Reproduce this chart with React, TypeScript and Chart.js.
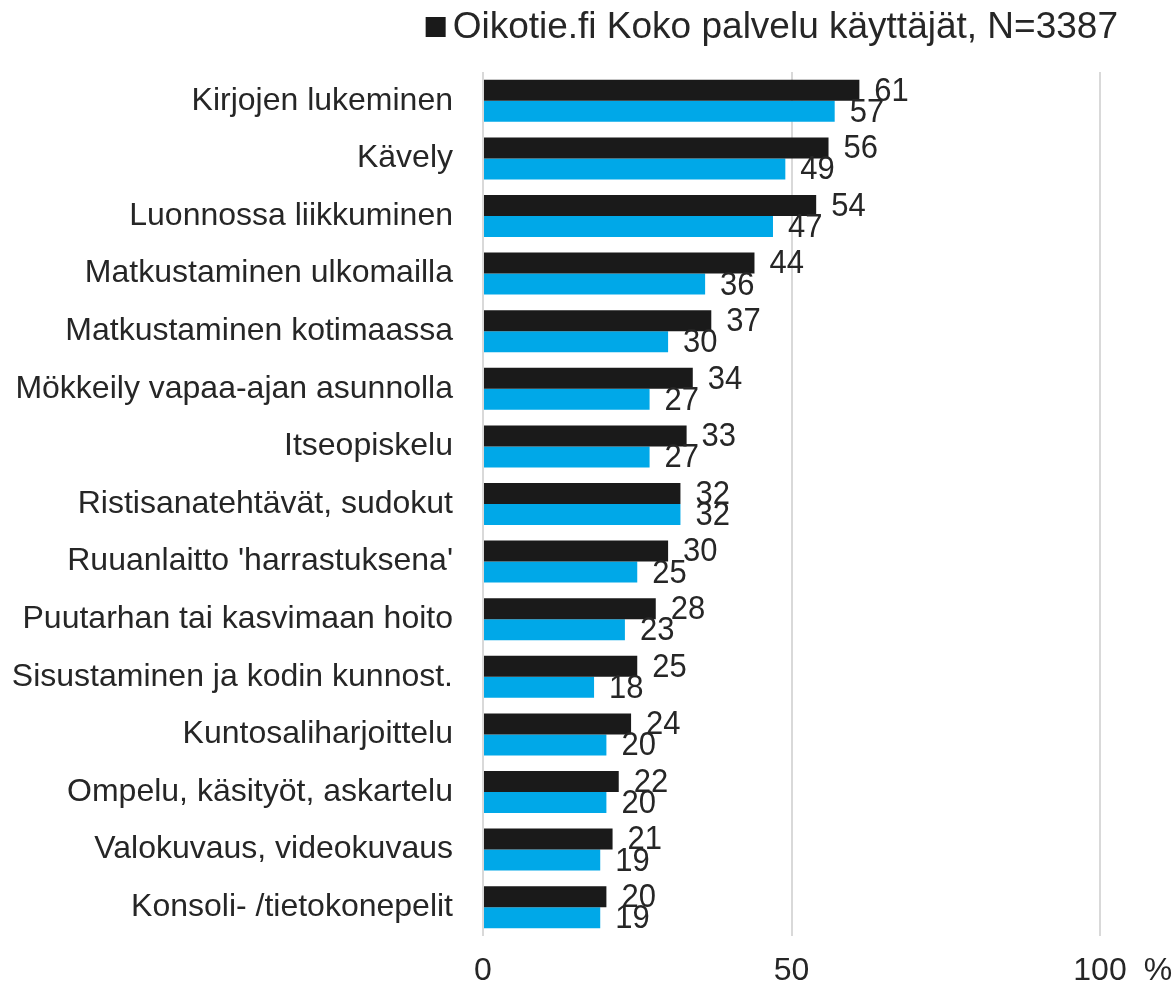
import React, { useEffect, useRef } from "react";
import { Chart, registerables } from "chart.js";

Chart.register(...registerables);

const categories = [
  "Kirjojen lukeminen",
  "Kävely",
  "Luonnossa liikkuminen",
  "Matkustaminen ulkomailla",
  "Matkustaminen kotimaassa",
  "Mökkeily vapaa-ajan asunnolla",
  "Itseopiskelu",
  "Ristisanatehtävät, sudokut",
  "Ruuanlaitto 'harrastuksena'",
  "Puutarhan tai kasvimaan hoito",
  "Sisustaminen ja kodin kunnost.",
  "Kuntosaliharjoittelu",
  "Ompelu, käsityöt, askartelu",
  "Valokuvaus, videokuvaus",
  "Konsoli- /tietokonepelit",
];

const seriesKoko = [61, 56, 54, 44, 37, 34, 33, 32, 30, 28, 25, 24, 22, 21, 20];
const seriesBlue = [57, 49, 47, 36, 30, 27, 27, 32, 25, 23, 18, 20, 20, 19, 19];
const xTickValues = [0, 50, 100];
const legendLabel = "Oikotie.fi Koko palvelu käyttäjät, N=3387";
const blueLabel = "Vertailuryhmä";

const FONT = '"Liberation Sans", Arial, sans-serif';
const TEXT = "#262626";

export default function App() {
  const ref = useRef<HTMLCanvasElement | null>(null);

  useEffect(() => {
    if (!ref.current) return;

    const labelsPlugin = {
      id: "valueLabels",
      afterDatasetsDraw(chart: any) {
        const ctx = chart.ctx;
        chart.data.datasets.forEach((ds: any, i: number) => {
          const meta = chart.getDatasetMeta(i);
          meta.data.forEach((el: any, j: number) => {
            ctx.save();
            ctx.font = `31px ${FONT}`;
            ctx.fillStyle = TEXT;
            ctx.textAlign = "left";
            ctx.textBaseline = "middle";
            ctx.translate(el.x + 15, el.y + 1);
            ctx.scale(1, 1.1);
            ctx.fillText(String(ds.data[j]), 0, 0);
            ctx.restore();
          });
        });
      },
    };

    const extrasPlugin = {
      id: "extras",
      afterDraw(chart: any) {
        const ctx = chart.ctx;
        ctx.save();
        // legend (first series only)
        ctx.font = `37px ${FONT}`;
        ctx.fillStyle = TEXT;
        ctx.textAlign = "right";
        ctx.textBaseline = "middle";
        const right = chart.width - 55;
        ctx.fillText(legendLabel, right, 28);
        const w = ctx.measureText(legendLabel).width;
        ctx.fillStyle = chart.data.datasets[0].backgroundColor;
        ctx.fillRect(right - w - 27, 17, 20, 20);
        // percent sign after the last tick
        const xs = chart.scales.x;
        ctx.font = `32px ${FONT}`;
        ctx.fillStyle = TEXT;
        ctx.textAlign = "left";
        const px = xs.getPixelForValue(100);
        const w100 = ctx.measureText("100").width;
        ctx.textBaseline = "top";
        ctx.fillText("%", px + w100 / 2 + 17, xs.top + 16 + 3.2);
        ctx.restore();
      },
    };

    const chart = new Chart(ref.current, {
      type: "bar",
      data: {
        labels: categories,
        datasets: [
          { label: legendLabel, data: seriesKoko, backgroundColor: "#1a1a1a" },
          { label: blueLabel, data: seriesBlue, backgroundColor: "#00a8e8" },
        ],
      },
      options: {
        indexAxis: "y",
        responsive: false,
        animation: false,
        devicePixelRatio: 1,
        layout: { padding: { top: 72, right: 73, left: 0, bottom: 0 } },
        datasets: { bar: { barPercentage: 1, categoryPercentage: 0.73 } },
        plugins: { legend: { display: false }, tooltip: { enabled: false } },
        scales: {
          x: {
            min: 0,
            max: 100,
            position: "bottom",
            afterBuildTicks: (s: any) => {
              s.ticks = xTickValues.map((v) => ({ value: v }));
            },
            afterFit: (s: any) => {
              s.height = 52;
            },
            grid: { color: "#d9d9d9", lineWidth: 2, drawTicks: false },
            border: { display: false },
            ticks: { font: { family: FONT, size: 32 }, color: TEXT, padding: 16 },
          },
          y: {
            afterFit: (s: any) => {
              s.width = 483;
            },
            grid: { display: false, drawTicks: false },
            border: { display: false },
            ticks: { font: { family: FONT, size: 32 }, color: TEXT, padding: 30 },
          },
        },
      },
      plugins: [labelsPlugin, extrasPlugin],
    } as any);

    return () => chart.destroy();
  }, []);

  return (
    <div style={{ position: "absolute", left: 0, top: 0, width: 1173, height: 988, background: "#fff" }}>
      <canvas ref={ref} width={1173} height={988} />
    </div>
  );
}
